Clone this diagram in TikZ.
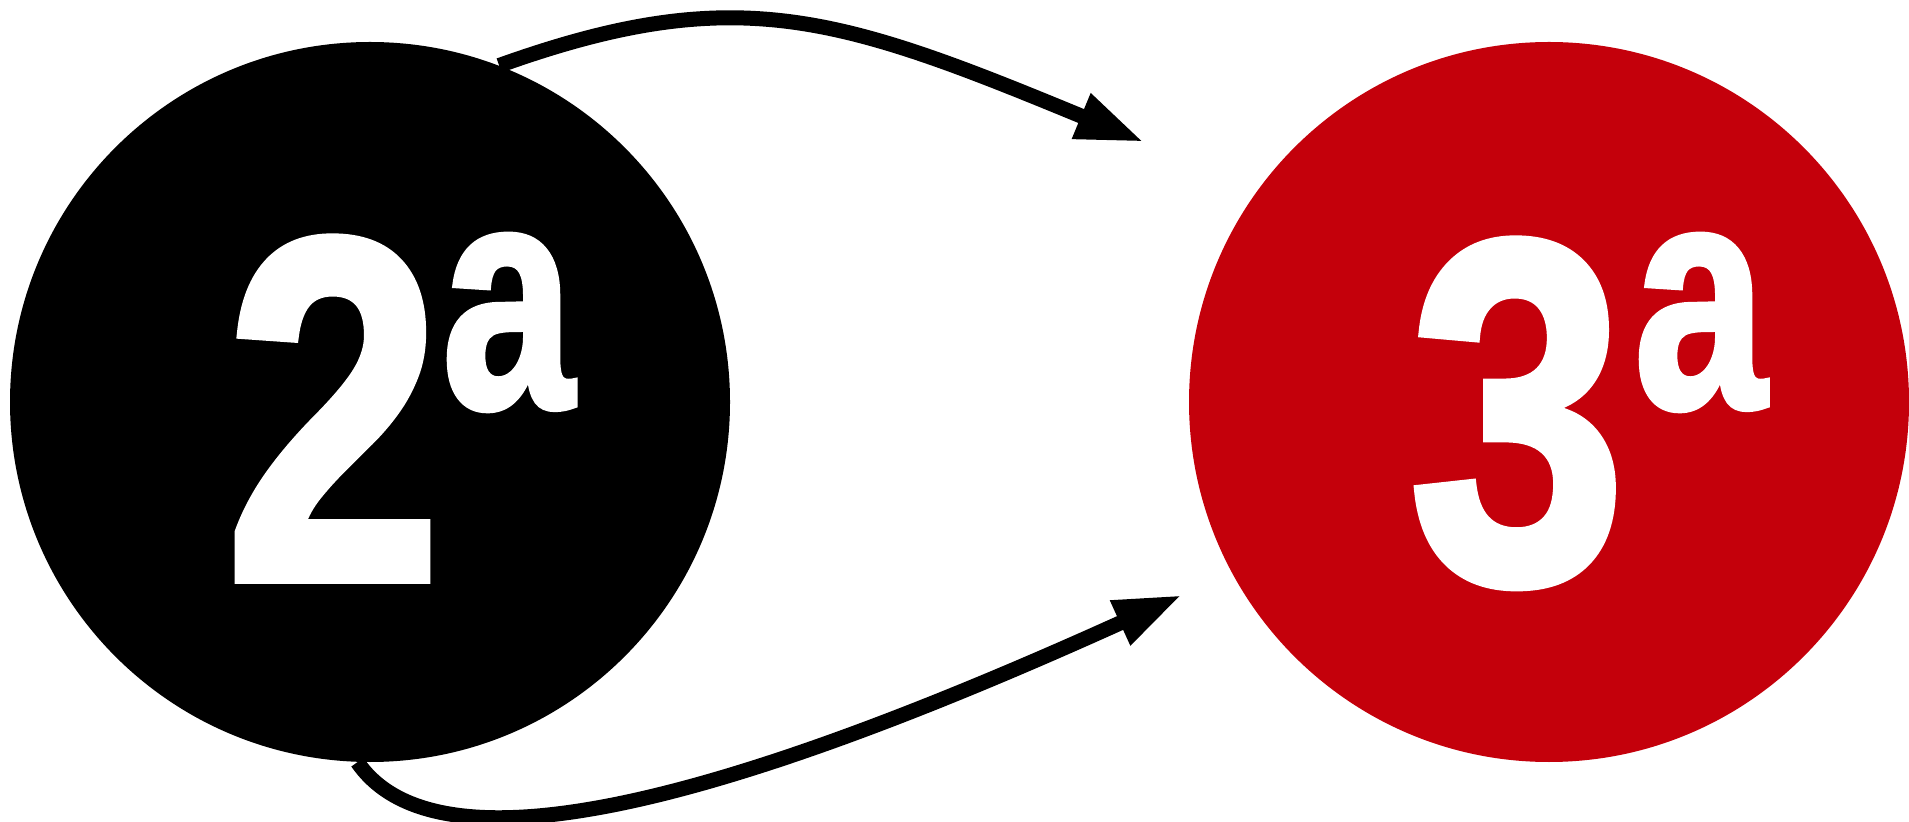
\documentclass[tikz,border=0pt]{standalone}
\usepackage{fontspec}
\setmainfont{Liberation Sans}
\newfontfamily\heavyfont{Liberation Sans Bold}[FakeBold=2]
\usetikzlibrary{arrows.meta}
\definecolor{ordred}{RGB}{196,0,11}
\begin{document}
\begin{tikzpicture}[x=0.5pt,y=-0.5pt,
  disc/.style={circle, inner sep=0pt, minimum size=360pt},
  bignum/.style={text=white, inner sep=0pt, anchor=base, font=\fontsize{244}{244}\heavyfont},
  ordsup/.style={text=white, inner sep=0pt, anchor=base, font=\fontsize{160}{160}\heavyfont},
  flow/.style={line width=7.5pt, -{Triangle[length=34pt,width=22.5pt]}}]
\useasboundingbox (0,0) rectangle (1909,822);
\node[disc, fill=black] (c2) at (370,402) {};
\node[disc, fill=ordred] (c3) at (1549,402) {};
\node[bignum] (n2) at (333.5,579) {\scalebox{0.80}[1]{2}};
\node[ordsup] (o2) at (508,407) {\scalebox{0.74}[1]{a}};
\node[bignum] (n3) at (1517.5,581) {\scalebox{0.80}[1]{3}};
\node[ordsup] (o3) at (1700,407) {\scalebox{0.74}[1]{a}};
\coordinate (t1) at (1144,142);
\coordinate (t2) at (1182,595);
\draw[flow] (c2.69.1) .. controls (736.5,-19.5) and (839,16) .. (t1);
\draw[flow] (c2.268.7) .. controls (438.3,879.5) and (726.5,801) .. (t2);
\end{tikzpicture}
\end{document}
